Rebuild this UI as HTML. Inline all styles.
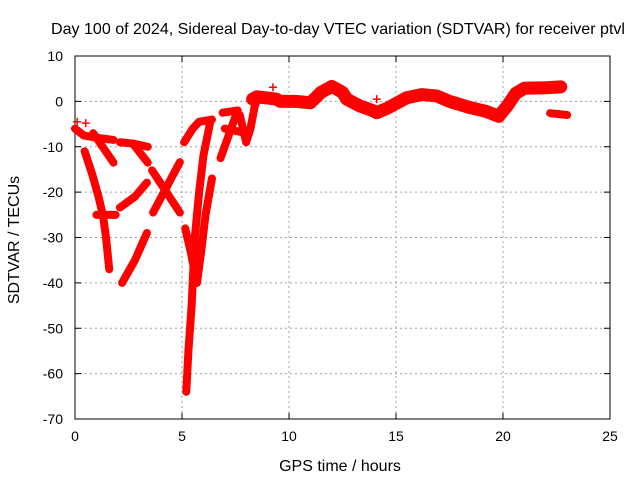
<!DOCTYPE html>
<html><head><meta charset="utf-8"><style>
body{margin:0;background:#fff;}
svg{display:block;font-family:"Liberation Sans",sans-serif;}
</style></head><body>
<svg id="chart" width="640" height="480">
<text x="338" y="34" text-anchor="middle" font-size="16" textLength="574" lengthAdjust="spacingAndGlyphs">Day 100 of 2024, Sidereal Day-to-day VTEC variation (SDTVAR) for receiver ptvl</text>
<g id="grid"></g>
<g id="axes"></g>
<g id="marks"></g>
<text x="340" y="471" text-anchor="middle" font-size="16">GPS time / hours</text>
<text x="19" y="240" text-anchor="middle" font-size="16" transform="rotate(-90 19 240)">SDTVAR / TECUs</text>
</svg>
<script>
const xTicks=[0,5,10,15,20,25];
const yTicks=[10,0,-10,-20,-30,-40,-50,-60,-70];
const trackTopA=[[0,-6],[0.4,-7.5],[1,-8],[1.8,-8.5]];
const trackTopDots=[[0.1,-4.5],[0.5,-4.8],[9.25,3.1],[14.1,0.5]];
const trackBranchA=[[0.85,-7],[1.8,-13.5]];
const trackSteepB=[[0.45,-11],[0.8,-16],[1.1,-21],[1.3,-25],[1.45,-30],[1.6,-37]];
const trackFlatB=[[1.0,-25],[1.9,-25]];
const trackC=[[2.1,-9],[2.7,-9.3],[3.4,-10]];
const trackBranchC=[[2.7,-9.3],[3.4,-13.5]];
const trackD=[[2.1,-23.4],[2.8,-21],[3.36,-17.9]];
const trackE=[[2.2,-40],[2.8,-35],[3.36,-29]];
const trackX1=[[3.6,-15.2],[4.9,-24.5]];
const trackX2=[[3.65,-24.5],[4.9,-13.4]];
const trackF1=[[5.1,-9],[5.5,-6],[5.8,-4.5],[6.4,-4]];
const trackF2=[[6.3,-5],[6.0,-12],[5.8,-20],[5.6,-30],[5.45,-45],[5.3,-55],[5.2,-64]];
const trackF3=[[5.15,-28],[5.4,-33],[5.7,-40],[5.9,-33],[6.1,-25],[6.4,-17]];
const trackI1=[[6.9,-2.5],[7.6,-2]];
const trackI2=[[7.6,-2],[6.8,-12.5]];
const trackI3=[[7.0,-6],[8.0,-7]];
const trackRise=[[7.7,-3],[8.0,-9],[8.2,-6],[8.4,-1],[8.6,1.5]];
const trackMain=[[8.3,0.5],[8.5,1],[9.4,0.5],[9.6,0],[10.3,0],[11,-0.3],[11.5,2],[12,3.3],[12.5,2],[12.7,0.5],[13.3,-1],[13.9,-2],[14.1,-2.5],[14.6,-1.5],[15.5,0.8],[16.2,1.5],[16.9,1.2],[17.5,0],[18.4,-1.3],[19.2,-2.2],[19.8,-3.3],[20.2,-1],[20.6,1.8],[21,2.9],[22,3.0],[22.7,3.2]];
const trackLate=[[22.2,-2.6],[23.0,-3.0]];
const tracks=[trackTopA,trackBranchA,trackSteepB,trackFlatB,trackC,trackBranchC,trackD,trackE,trackX1,trackX2,trackF1,trackF2,trackF3,trackI1,trackI2,trackI3,trackRise,trackLate];

const X0=75,X1=610,Y0=56,Y1=419;
const xs=h=>X0+(h-0)/(25-0)*(X1-X0);
const ys=v=>Y0+(10-v)/(10-(-70))*(Y1-Y0);
const NS="http://www.w3.org/2000/svg";
function mk(t,a,p){const e=document.createElementNS(NS,t);for(const k in a)e.setAttribute(k,a[k]);p.appendChild(e);return e;}
const grid=document.getElementById('grid'),axes=document.getElementById('axes'),marks=document.getElementById('marks');
xTicks.forEach(t=>{
  if(t>0&&t<25){const l=mk('line',{x1:xs(t),x2:xs(t),y1:Y0,y2:Y1,stroke:'#a0a0a0','stroke-dasharray':'2,3'},grid);
  
  }
  mk('line',{x1:xs(t),x2:xs(t),y1:Y1,y2:Y1-6,stroke:'#000'},axes);
  mk('line',{x1:xs(t),x2:xs(t),y1:Y0,y2:Y0+6,stroke:'#000'},axes);
  const tx=mk('text',{x:xs(t),y:Y1+22,'text-anchor':'middle','font-size':'14'},axes);tx.textContent=t;
  
  
});
yTicks.forEach(t=>{
  if(t<10&&t>-70){const l=mk('line',{x1:X0,x2:X1,y1:ys(t),y2:ys(t),stroke:'#a0a0a0','stroke-dasharray':'2,3'},grid);
  
  }
  mk('line',{x1:X0,x2:X0+6,y1:ys(t),y2:ys(t),stroke:'#000'},axes);
  mk('line',{x1:X1,x2:X1-6,y1:ys(t),y2:ys(t),stroke:'#000'},axes);
  const tx=mk('text',{x:X0-12,y:ys(t)+5,'text-anchor':'end','font-size':'14'},axes);tx.textContent=t;
  
  
});
mk('rect',{x:X0,y:Y0,width:X1-X0,height:Y1-Y0,fill:'none',stroke:'#000'},axes);
tracks.forEach(tr=>{
  const p=mk('polyline',{points:tr.map(d=>xs(d[0])+','+ys(d[1])).join(' '),fill:'none',stroke:'#f00','stroke-width':'8','stroke-linecap':'round','stroke-linejoin':'round'},marks);
  
  
});
const mainLine=mk('polyline',{points:trackMain.map(d=>xs(d[0])+','+ys(d[1])).join(' '),fill:'none',stroke:'#f00','stroke-width':'13','stroke-linecap':'round','stroke-linejoin':'round'},marks);


trackTopDots.forEach(d=>{
  const g=mk('path',{d:`M${xs(d[0])-4},${ys(d[1])}h8M${xs(d[0])},${ys(d[1])-4}v8`,stroke:'#f00','stroke-width':'1.5'},marks);
  
  
});
</script>
</body></html>
